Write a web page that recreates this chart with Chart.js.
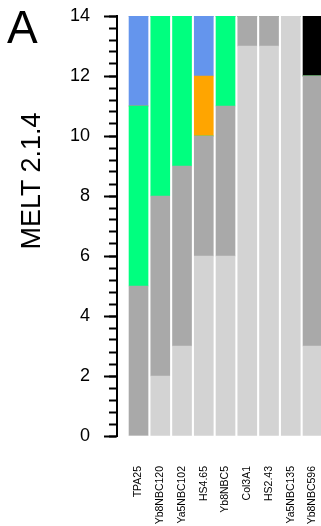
<!DOCTYPE html>
<html>
<head>
<meta charset="utf-8">
<script src="https://cdn.jsdelivr.net/npm/chart.js@4/dist/chart.umd.min.js"></script>
<style>
html,body{margin:0;padding:0;background:#fff;overflow:hidden;}
#wrap{position:relative;width:321px;height:526px;overflow:hidden;}
#c{position:absolute;left:0;top:0;}
.lbl{position:absolute;font-family:"Liberation Sans",Arial,Helvetica,sans-serif;color:#000;white-space:nowrap;line-height:1;}
</style>
</head>
<body>
<div id="wrap">
<canvas id="c" width="321" height="526"></canvas>
<div class="lbl" id="panel" style="left:7px;top:4px;font-size:46px;">A</div>
<div class="lbl" id="ytitle" style="left:31px;top:181px;font-size:27px;transform:translate(-50%,-50%) rotate(-90deg);">MELT 2.1.4</div>
</div>
<script>
// categories (x axis)
const categories = ["TPA25","Yb8NBC120","Ya5NBC102","HS4.65","Yb8NBC5","Col3A1","HS2.43","Ya5NBC135","Yb8NBC596"];
// stacked series, bottom to top
const lightgrayVals = [0, 2, 3, 6, 6, 13, 13, 14, 3];
const darkgrayVals  = [5, 6, 6, 4, 5, 1, 1, 0, 9];
const greenVals     = [6, 6, 5, 0, 3, 0, 0, 0, 0];
const orangeVals    = [0, 0, 0, 2, 0, 0, 0, 0, 0];
const blueVals      = [3, 0, 0, 2, 0, 0, 0, 0, 0];
const blackVals     = [0, 0, 0, 0, 0, 0, 0, 0, 2];
// y axis
const yMin = 0, yMax = 14;
const yMajorStep = 2;
const yMinorStep = 0.4;

const FONT = '"Liberation Sans", Arial, Helvetica, sans-serif';

function series(label, vals, color) {
  return {
    label: label,
    data: vals.map((v, i) => ({x: i, y: v})),
    backgroundColor: color,
    borderWidth: 0,
    barThickness: 19
  };
}

new Chart(document.getElementById('c'), {
  type: 'bar',
  data: {
    datasets: [
      series('lightgray', lightgrayVals, '#D3D3D3'),
      series('darkgray', darkgrayVals, '#A9A9A9'),
      series('green', greenVals, '#00FF7F'),
      series('orange', orangeVals, '#FFA500'),
      series('blue', blueVals, '#6495ED'),
      series('black', blackVals, '#000000')
    ]
  },
  options: {
    responsive: false,
    animation: false,
    layout: {padding: {top: 16, left: 0, right: 0, bottom: 0}},
    plugins: {legend: {display: false}, tooltip: {enabled: false}, title: {display: false}},
    scales: {
      x: {
        type: 'linear',
        stacked: true,
        offset: false,
        min: -0.99,
        max: 8.39,
        grid: {display: false, drawTicks: false},
        border: {display: false},
        afterBuildTicks: s => { s.ticks = categories.map((_, i) => ({value: i})); },
        ticks: {
          autoSkip: false,
          maxRotation: 90,
          minRotation: 90,
          padding: 30,
          color: '#000',
          font: {family: FONT, size: 10.5},
          callback: v => (categories[v] !== undefined ? categories[v] : '')
        },
        afterFit: s => { s.height = 90; s.paddingLeft = 0; s.paddingRight = 0; }
      },
      y: {
        stacked: true,
        position: 'left',
        weight: 1,
        min: yMin,
        max: yMax,
        ticks: {stepSize: yMajorStep, color: '#000', padding: 14, font: {family: FONT, size: 18}},
        grid: {drawOnChartArea: false, tickLength: 13, tickWidth: 2, tickColor: '#000'},
        border: {display: true, color: '#000', width: 2},
        afterFit: s => { s.width = 117; s.paddingTop = 0; s.paddingBottom = 0; }
      },
      y2: {
        position: 'left',
        weight: 0,
        min: yMin,
        max: yMax,
        ticks: {display: false, stepSize: yMinorStep, maxTicksLimit: 100, autoSkip: false},
        grid: {drawOnChartArea: false, tickLength: 8, tickWidth: 2, tickColor: '#000'},
        border: {display: false},
        afterFit: s => { s.width = 0; s.paddingTop = 0; s.paddingBottom = 0; }
      }
    }
  }
});
</script>
</body>
</html>
